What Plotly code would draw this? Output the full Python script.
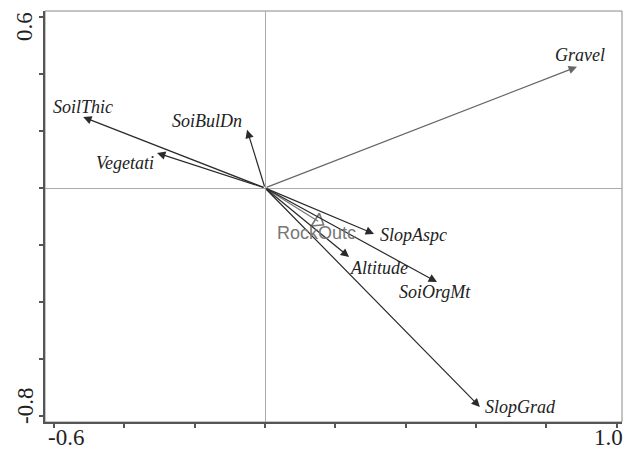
import math
import plotly.graph_objects as go

# Biplot vectors (axis 1, axis 2)
variables = ["Gravel", "SoilThic", "SoiBulDn", "Vegetati", "SlopAspc",
             "Altitude", "SoiOrgMt", "SlopGrad"]
axis1 = [0.887, -0.517, -0.051, -0.307, 0.310, 0.239, 0.489, 0.611]
axis2 = [0.425, 0.249, 0.204, 0.123, -0.161, -0.242, -0.330, -0.768]

rock_name = "RockOutc"
rock_x = 0.151
rock_y = -0.117

x_tickvals = [-0.6, -0.4, -0.2, 0.0, 0.2, 0.4, 0.6, 0.8, 1.0]
y_tickvals = [-0.8, -0.6, -0.4, -0.2, 0.0, 0.2, 0.4, 0.6]
x_end_labels = [(-0.6, "-0.6"), (1.0, "1.0")]
y_end_labels = [(0.6, "0.6"), (-0.8, "-0.8")]

x_range = [-0.6255, 1.015]
y_range = [-0.821, 0.621]
W, H = 624, 450
M = dict(l=45, r=2, t=11, b=28)

# label pixel offsets from arrow tips (layout only)
label_shift = {
    "Gravel": (3, 12), "SoilThic": (0, 10), "SoiBulDn": (-40, 9),
    "Vegetati": (-32, -10), "SlopAspc": (39, -1), "Altitude": (30, -11),
    "SoiOrgMt": (-2, -10), "SlopGrad": (41, 0),
}
xlab_shift = {"-0.6": 12, "1.0": -8}
ylab_shift = {"0.6": -10, "-0.8": 10}

# orientation of the hollow head in screen space
sx = (W - M["l"] - M["r"]) / (x_range[1] - x_range[0])
sy = (H - M["t"] - M["b"]) / (y_range[1] - y_range[0])
head_angle = math.degrees(math.atan2(rock_x * sx, rock_y * sy))

fig = go.Figure()

# RockOutc hollow-head vector
fig.add_trace(go.Scatter(
    x=[0, rock_x], y=[0, rock_y], mode="lines",
    line=dict(color="#777", width=1.2),
    hoverinfo="skip", showlegend=False))
fig.add_trace(go.Scatter(
    x=[rock_x], y=[rock_y], mode="markers",
    marker=dict(symbol="triangle-up-open", size=13, angle=head_angle,
                color="#777", line=dict(width=1.6, color="#777")),
    hoverinfo="skip", showlegend=False))

annotations = []
for name, vx, vy in zip(variables, axis1, axis2):
    col = "#666" if name == "Gravel" else "#2a2a2a"
    annotations.append(dict(
        x=vx, y=vy, ax=0, ay=0, xref="x", yref="y", axref="x", ayref="y",
        text="", showarrow=True, arrowhead=2, arrowsize=1.4, arrowwidth=1.2,
        arrowcolor=col))
for name, vx, vy in zip(variables, axis1, axis2):
    dx, dy = label_shift[name]
    annotations.append(dict(
        x=vx, y=vy, xref="x", yref="y", text="<i>%s</i>" % name,
        showarrow=False, xshift=dx, yshift=dy,
        font=dict(family="Liberation Serif", size=18, color="#222")))
annotations.append(dict(
    x=rock_x, y=rock_y, xref="x", yref="y", text=rock_name, showarrow=False,
    xshift=-2, yshift=-12,
    font=dict(family="Liberation Sans", size=18, color="#777")))

tick_font = dict(family="Liberation Serif", size=23, color="#222")
for val, txt in x_end_labels:
    annotations.append(dict(x=val, y=0, xref="x", yref="paper", text=txt,
                            showarrow=False, xshift=xlab_shift[txt], yshift=-15,
                            yanchor="middle", font=tick_font))
for val, txt in y_end_labels:
    annotations.append(dict(x=0, y=val, xref="paper", yref="y", text=txt,
                            showarrow=False, xshift=-20, yshift=ylab_shift[txt],
                            xanchor="center", textangle=-90, font=tick_font))

fig.update_layout(
    width=W, height=H,
    margin=M,
    paper_bgcolor="white", plot_bgcolor="white",
    showlegend=False,
    annotations=annotations,
    shapes=[dict(type="rect", xref="paper", yref="paper", x0=0, y0=0, x1=1, y1=1,
                 line=dict(color="#888", width=1), layer="below")],
    xaxis=dict(range=x_range, tickvals=x_tickvals, showticklabels=False,
               ticks="outside", ticklen=4, tickwidth=1.5, tickcolor="#555",
               showline=True, linecolor="#555", linewidth=2, automargin=False,
               showgrid=False, zeroline=True, zerolinecolor="#aaa", zerolinewidth=1),
    yaxis=dict(range=y_range, tickvals=y_tickvals, showticklabels=False,
               ticks="outside", ticklen=4, tickwidth=1.5, tickcolor="#555",
               showline=True, linecolor="#555", linewidth=2, automargin=False,
               showgrid=False, zeroline=True, zerolinecolor="#aaa", zerolinewidth=1),
)

fig.write_html("out.html", config={"displayModeBar": False},
               post_script="document.body.style.margin='0';"
                           "document.body.style.overflow='hidden';")
